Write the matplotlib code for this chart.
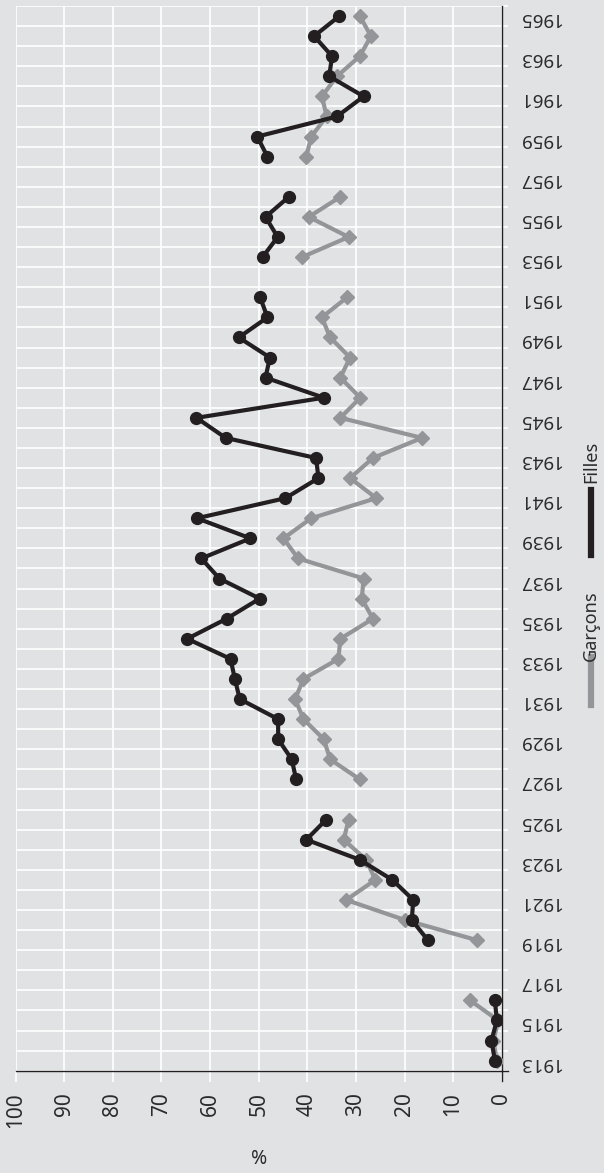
import numpy as np
import matplotlib
matplotlib.use("Agg")
import matplotlib.pyplot as plt
from matplotlib.lines import Line2D

plt.rcParams['font.family'] = ['Noto Sans', 'DejaVu Sans']

years = list(range(1913, 1966))

# Filles (black) – None where no data
filles = {
    1913: 1.4, 1914: 2.1, 1915: 1.0, 1916: 1.4,
    1919: 15.2, 1920: 18.5, 1921: 18.2, 1922: 22.5, 1923: 29.2, 1924: 40.2, 1925: 36.1,
    1927: 42.3, 1928: 43.2, 1929: 46.0, 1930: 46.0, 1931: 53.9, 1932: 54.9, 1933: 55.8,
    1934: 64.7, 1935: 56.6, 1936: 49.8, 1937: 58.1, 1938: 61.8, 1939: 51.7, 1940: 62.7,
    1941: 44.5, 1942: 37.7, 1943: 38.2, 1944: 56.8, 1945: 62.8, 1946: 36.6, 1947: 48.6,
    1948: 47.7, 1949: 54.1, 1950: 48.2, 1951: 49.7, 1953: 49.2, 1954: 46.1, 1955: 48.6,
    1956: 43.8, 1958: 48.2, 1959: 50.3, 1960: 33.9, 1961: 28.4, 1962: 35.5, 1963: 34.9,
    1964: 38.6, 1965: 33.4,
}
# Garçons (gray)
garcons = {
    1913: 1.0, 1914: 1.7, 1915: 0.7, 1916: 6.5,
    1919: 5.1, 1920: 19.9, 1921: 32.0, 1922: 26.0, 1923: 27.9, 1924: 32.5, 1925: 31.5,
    1927: 29.2, 1928: 35.3, 1929: 36.6, 1930: 40.8, 1931: 42.5, 1932: 40.8, 1933: 33.6,
    1934: 33.2, 1935: 26.5, 1936: 28.8, 1937: 28.4, 1938: 41.9, 1939: 44.9, 1940: 39.2,
    1941: 25.8, 1942: 31.2, 1943: 26.5, 1944: 16.4, 1945: 33.2, 1946: 29.1, 1947: 33.2,
    1948: 31.2, 1949: 35.3, 1950: 37.0, 1951: 31.8, 1953: 41.1, 1954: 31.5, 1955: 39.7,
    1956: 33.2, 1958: 40.2, 1959: 39.2, 1960: 36.0, 1961: 37.0, 1962: 33.9, 1963: 29.2,
    1964: 26.9, 1965: 29.2,
}
series_labels = ['Garçons', 'Filles']
value_ticks = list(range(0, 101, 10))
year_ticks = list(range(1913, 1966, 2))

f_vals = np.array([filles.get(y, np.nan) for y in years], dtype=float)
g_vals = np.array([garcons.get(y, np.nan) for y in years], dtype=float)

BG = '#e1e2e4'
BLACK = '#231f20'
GRAY = '#939598'
TXT = '#2b2b2b'

W, H = 604, 1173
fig = plt.figure(figsize=(W / 100, H / 100), dpi=100, facecolor=BG)
ax = fig.add_axes([15.7 / W, (H - 1070.7) / H, (501.7 - 15.7) / W, (1070.7 - 6) / H])
ax.set_facecolor(BG)

ax.set_xlim(100, 0)
ax.set_ylim(1912.5, 1965.5)

# grid
ax.set_xticks(value_ticks)
ax.set_yticks(year_ticks)
ax.set_yticks(np.arange(1912.5, 1966.0, 1.0), minor=True)
ax.grid(True, axis='x', which='major', color='white', lw=1.2, zorder=0)
ax.grid(True, axis='y', which='minor', color='white', lw=1.2, zorder=0)
ax.grid(False, axis='y', which='major')
ax.set_axisbelow(True)

ax.plot(g_vals, years, color=GRAY, lw=3.0, marker='D', ms=7, mec=GRAY, mfc=GRAY,
        zorder=3, label=series_labels[0])
ax.plot(f_vals, years, color=BLACK, lw=3.0, marker='o', ms=8.5, mec=BLACK, mfc=BLACK,
        zorder=4, label=series_labels[1])

for s in ['left', 'top']:
    ax.spines[s].set_visible(False)
ax.spines['right'].set_color(BLACK)
ax.spines['right'].set_linewidth(1.0)
ax.spines['bottom'].set_color(BLACK)
ax.spines['bottom'].set_linewidth(1.0)

# extend axis lines slightly (as in reference)
ax.add_line(Line2D([0, 0], [-0.01, 0], transform=ax.get_xaxis_transform(),
                   color=BLACK, lw=1.0, clip_on=False))
ax.add_line(Line2D([1, 1.013], [0, 0], transform=ax.transAxes,
                   color=BLACK, lw=1.0, clip_on=False))

ax.yaxis.tick_right()
ax.tick_params(axis='x', which='major', colors='white', length=8, width=1.2,
               pad=7.5, labelcolor=TXT, labelsize=15, labelrotation=90)
ax.tick_params(axis='y', which='major', length=0, pad=12, labelcolor=TXT,
               labelsize=13.5, labelrotation=180)
ax.tick_params(axis='y', which='minor', colors='white', length=4.5, width=1.2,
               right=True, left=False)
for lab in ax.get_yticklabels():
    lab.set_ha('left')
for lab in ax.get_xticklabels():
    lab.set_va('top')

ax.set_xlabel('%', fontsize=14, color=TXT, labelpad=15)

# legend (vertical, rotated)
lx = 591 / W
fig.add_artist(Line2D([lx, lx], [1 - 705 / H, 1 - 657 / H], color=GRAY, lw=4.5))
fig.text(lx, 1 - 626 / H, series_labels[0], rotation=90, ha='center', va='center',
         fontsize=13, color=TXT)
fig.add_artist(Line2D([lx, lx], [1 - 555 / H, 1 - 490 / H], color=BLACK, lw=4.5))
fig.text(lx, 1 - 462 / H, series_labels[1], rotation=90, ha='center', va='center',
         fontsize=13, color=TXT)

fig.savefig('out.png', dpi=100, facecolor=BG)
